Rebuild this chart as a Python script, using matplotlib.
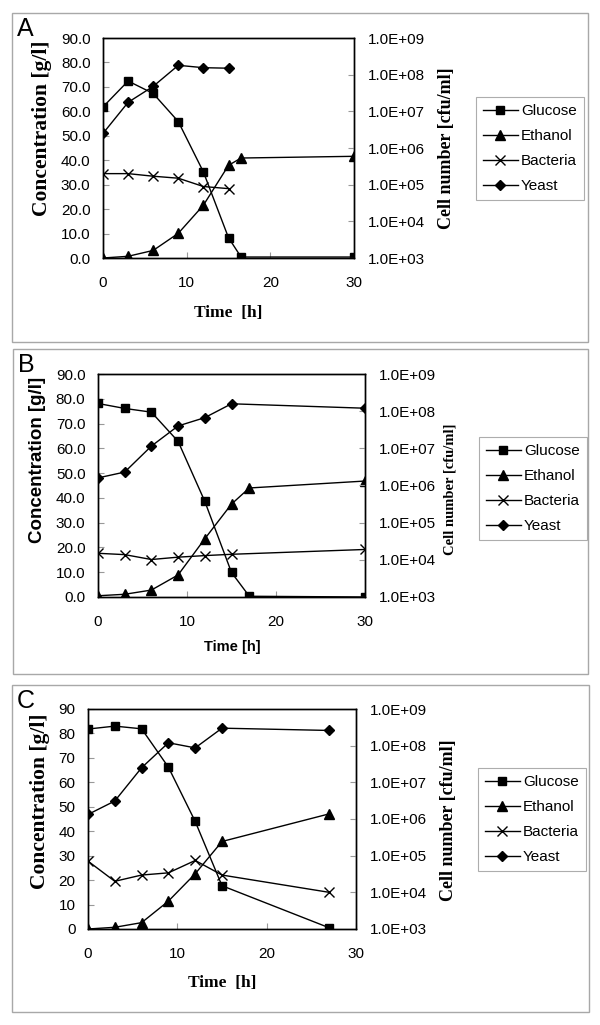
import matplotlib
matplotlib.use("Agg")
import matplotlib.pyplot as plt
from matplotlib.patches import Rectangle
from matplotlib.ticker import FuncFormatter, FixedLocator

W, H = 600, 1025
SERIES = ["Glucose", "Ethanol", "Bacteria", "Yeast"]

# Panel A
time_a = [0, 3, 6, 9, 12, 15, 16.5, 30]
glucose_a = [61.8, 72.4, 67.3, 55.8, 35.2, 8.3, 0.4, 0.4]
ethanol_a = [0.0, 0.7, 3.1, 10.1, 21.6, 37.9, 40.9, 41.6]
time_a_cells = [0, 3, 6, 9, 12, 15]
bacteria_a = [2.0e5, 2.0e5, 1.7e5, 1.5e5, 8.9e4, 7.8e4]
yeast_a = [2.5e6, 1.76e7, 4.8e7, 1.8e8, 1.55e8, 1.5e8]

# Panel B
time_b = [0, 3, 6, 9, 12, 15, 17, 30]
glucose_b = [78.1, 76.1, 74.6, 62.8, 38.6, 9.9, 0.3, 0.0]
ethanol_b = [0.5, 1.1, 2.8, 8.9, 23.5, 37.5, 44.0, 46.8]
time_b_cells = [0, 3, 6, 9, 12, 15, 30]
bacteria_b = [1.5e4, 1.38e4, 1.02e4, 1.18e4, 1.3e4, 1.41e4, 1.9e4]
yeast_b = [1.6e6, 2.3e6, 1.15e7, 4.0e7, 6.7e7, 1.58e8, 1.2e8]

# Panel C
time_c = [0, 3, 6, 9, 12, 15, 27]
glucose_c = [81.8, 83.0, 81.9, 66.2, 44.0, 17.7, 0.5]
ethanol_c = [0.0, 0.7, 2.6, 11.4, 22.6, 35.8, 47.1]
bacteria_c = [7.1e4, 2.0e4, 2.96e4, 3.4e4, 7.4e4, 2.96e4, 1.0e4]
yeast_c = [1.33e6, 3.1e6, 2.5e7, 1.2e8, 8.7e7, 3.0e8, 2.6e8]

x_ticks = [0, 10, 20, 30]
conc_ticks = list(range(0, 100, 10))
cell_ticks = [1e3, 1e4, 1e5, 1e6, 1e7, 1e8, 1e9]

SANS = "Liberation Sans"
SERIF = "Liberation Serif"
plt.rcParams["font.family"] = [SANS, "DejaVu Sans"]

fig = plt.figure(figsize=(W / 100, H / 100), dpi=100)


def fx(x):
    return x / W


def fy(y):
    return 1 - y / H


def panel(letter, box, rect, t, glu, eth, t_cells, bac, yeast, yfmt,
          conc_lbl, cell_lbl, time_lbl, legend_xy):
    # grey frame around the panel
    x0, y0, x1, y1 = box
    fig.add_artist(Rectangle((fx(x0), fy(y1)), fx(x1 - x0), (y1 - y0) / H,
                             transform=fig.transFigure, fill=False,
                             edgecolor="#a8a8a8", linewidth=1.0))
    fig.text(fx(x0 + 5), fy(y0 + 16), letter, fontsize=18, va="center",
             ha="left", family=SANS)

    l, r, top, bot = rect
    ax = fig.add_axes([fx(l), fy(bot), fx(r - l), (bot - top) / H])
    ax2 = ax.twinx()

    kw = dict(color="black", linewidth=1.0, markeredgecolor="black",
              markerfacecolor="black")
    h1, = ax.plot(t, glu, marker="s", markersize=6, label=SERIES[0], **kw)
    h2, = ax.plot(t, eth, marker="^", markersize=7, label=SERIES[1], **kw)
    h3, = ax2.plot(t_cells[:len(bac)], bac, marker="x", markersize=6.5,
                   markeredgewidth=1.0, label=SERIES[2], **kw)
    h4, = ax2.plot(t_cells[:len(yeast)], yeast, marker="D", markersize=4.8,
                   label=SERIES[3], **kw)

    ax.set_xlim(0, 30)
    ax.set_ylim(0, 90)
    ax2.set_yscale("log")
    ax2.set_ylim(1e3, 1e9)
    ax.xaxis.set_major_locator(FixedLocator(x_ticks))
    ax.yaxis.set_major_locator(FixedLocator(conc_ticks))
    ax2.yaxis.set_major_locator(FixedLocator(cell_ticks))
    ax2.yaxis.set_minor_locator(FixedLocator([]))
    ax.yaxis.set_major_formatter(FuncFormatter(lambda v, p: yfmt.format(v)))
    ax2.yaxis.set_major_formatter(FuncFormatter(lambda v, p: f"{v:.1E}"))

    for a in (ax, ax2):
        for s in a.spines.values():
            s.set_linewidth(1.0)
            s.set_color("black")
    ax.tick_params(axis="both", direction="in", length=4, width=0.8,
                   color="#999999", labelsize=11, top=False, right=False)
    ax.tick_params(axis="y", pad=9)
    ax.tick_params(axis="x", pad=13)
    ax2.tick_params(axis="y", direction="in", length=4, width=0.8,
                    color="#999999", labelsize=11, pad=10)

    # axis titles
    txt, fam, size, (cx, cy) = conc_lbl
    fig.text(fx(cx), fy(cy), txt, rotation=90, ha="center", va="center",
             family=fam, weight="bold", fontsize=size)
    txt, fam, size, (cx, cy) = cell_lbl
    fig.text(fx(cx), fy(cy), txt, rotation=90, ha="center", va="center",
             family=fam, weight="bold", fontsize=size)
    txt, fam, size, (cx, cy) = time_lbl
    fig.text(fx(cx), fy(cy), txt, ha="center", va="center",
             family=fam, weight="bold", fontsize=size)

    leg = fig.legend([h1, h2, h3, h4], SERIES, loc="upper left",
                     bbox_to_anchor=(fx(legend_xy[0]), fy(legend_xy[1])),
                     bbox_transform=fig.transFigure, fontsize=11,
                     frameon=True, fancybox=False, handlelength=2.3,
                     handletextpad=0.2, labelspacing=0.72, borderpad=0.45,
                     borderaxespad=0)
    leg.get_frame().set_edgecolor("#999999")
    leg.get_frame().set_linewidth(0.8)


panel("A", (12, 13, 588, 342), (103, 354, 38, 258),
      time_a, glucose_a, ethanol_a, time_a_cells, bacteria_a, yeast_a,
      "{:.1f}",
      ("Concentration [g/l]", SERIF, 15.5, (42, 128)),
      ("Cell number [cfu/ml]", SERIF, 13, (446, 148)),
      ("Time  [h]", SERIF, 12.5, (228, 313)),
      (476, 97))

panel("B", (13, 349, 588, 674), (98, 365, 374, 597),
      time_b, glucose_b, ethanol_b, time_b_cells, bacteria_b, yeast_b,
      "{:.1f}",
      ("Concentration [g/l]", SANS, 13.5, (38, 460)),
      ("Cell number [cfu/ml]", SERIF, 10.5, (450, 489)),
      ("Time [h]", SANS, 10.5, (232, 647)),
      (479, 437))

panel("C", (12, 685, 589, 1012), (88, 356, 709, 929),
      time_c, glucose_c, ethanol_c, time_c, bacteria_c, yeast_c,
      "{:.0f}",
      ("Concentration [g/l]", SERIF, 15.5, (40, 801)),
      ("Cell number [cfu/ml]", SERIF, 13, (448, 820)),
      ("Time  [h]", SERIF, 12.5, (222, 983)),
      (478, 768))

fig.savefig("out.png", dpi=100)
